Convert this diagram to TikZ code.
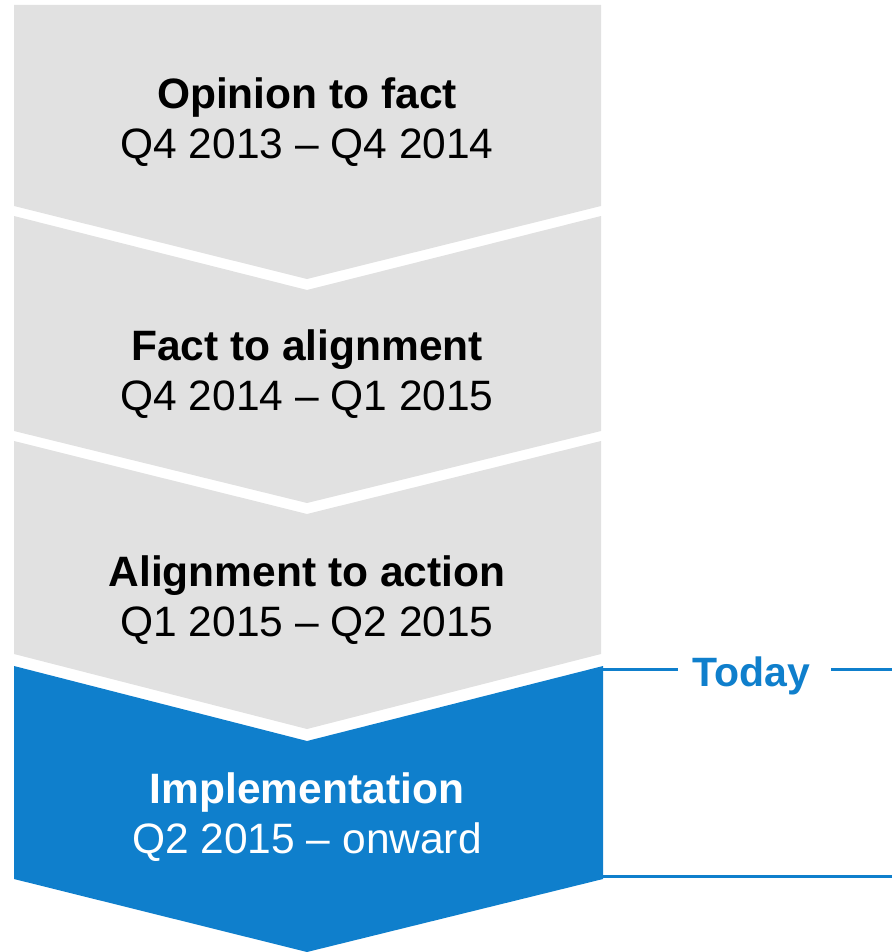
\documentclass[tikz,border=0pt]{standalone}
\usepackage{fontspec}
\setmainfont{Liberation Sans}
\definecolor{stagegray}{HTML}{E1E1E1}
\definecolor{nowblue}{HTML}{0F7FCC}
\tikzset{
  stagetxt/.style={align=center, inner sep=0pt, font=\fontsize{42.5}{50}\selectfont},
  todayline/.style={nowblue, line width=3pt},
}
\begin{document}
\begin{tikzpicture}[x=1pt,y=-1pt]
\useasboundingbox (0,0) rectangle (892,952);
% stage chevrons
\fill[stagegray] (14,5) -- (601,5) -- (601,206) -- (307,279) -- (14,206) -- cycle;
\fill[stagegray] (14,216) -- (307,290) -- (601,216) -- (601,431) -- (307,503) -- (14,431) -- cycle;
\fill[stagegray] (14,441) -- (307,514) -- (601,441) -- (601,654) -- (307,729) -- (14,654) -- cycle;
\fill[nowblue] (14,666) -- (307,741) -- (603,666) -- (603,879) -- (307,952) -- (14,879) -- cycle;
%
\node[stagetxt] (opinion) at (307,122.5) {\textbf{Opinion to fact}\\Q4 2013 -- Q4 2014};
\node[stagetxt] (fact) at (307,374.5) {\textbf{Fact to alignment}\\Q4 2014 -- Q1 2015};
\node[stagetxt] (align) at (307,600.5) {\textbf{Alignment to action}\\Q1 2015 -- Q2 2015};
\node[stagetxt, text=white] (impl) at (307,817.5) {\textbf{Implementation}\\Q2 2015 -- onward};
%
\node[text=nowblue, inner sep=0pt, anchor=base, font=\bfseries\fontsize{41}{41}\selectfont] (today) at (751,686) {Today};
\coordinate (nowstart) at (601,669);
\coordinate (nowend) at (892,669);
\coordinate (endstart) at (603,876);
\coordinate (endend) at (892,876);
\draw[todayline, shorten >=14pt] (nowstart) -- (nowstart -| today.west);
\draw[todayline, shorten <=21pt] (nowend -| today.east) -- (nowend);
\draw[todayline] (endstart) -- (endend);
\end{tikzpicture}
\end{document}
